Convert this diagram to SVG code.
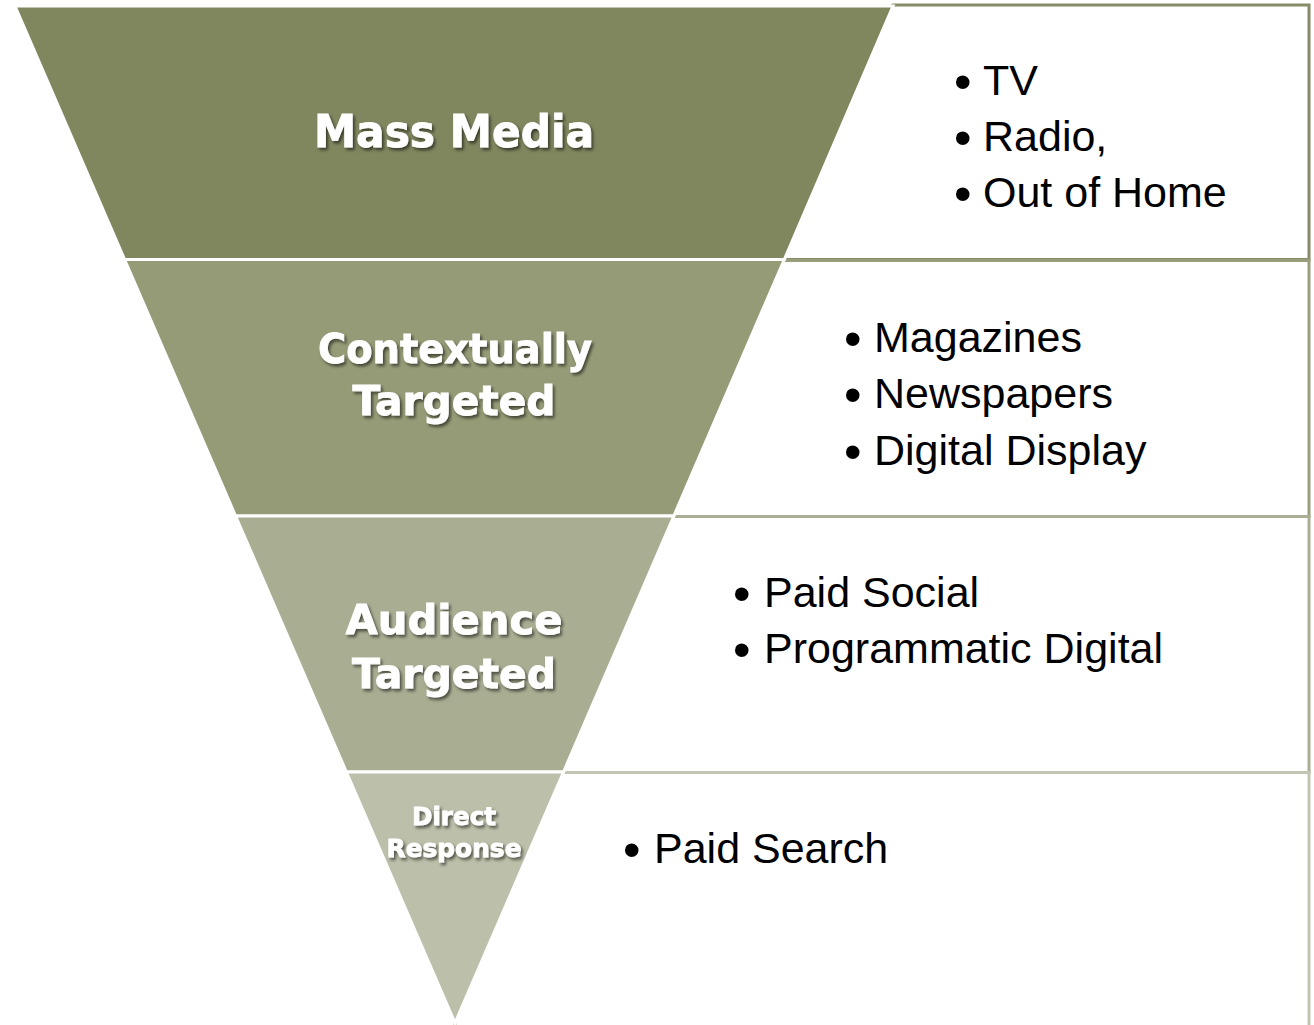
<svg xmlns="http://www.w3.org/2000/svg" width="1314" height="1025" viewBox="0 0 1314 1025">
<defs>
<filter id="sh" x="-10%" y="-30%" width="120%" height="160%">
<feDropShadow dx="2" dy="2.5" stdDeviation="1.5" flood-color="#000" flood-opacity="0.55"/>
</filter>
</defs>
<style>
.box{fill:#fff;stroke-width:3}
.band{stroke:#fff;stroke-width:3;stroke-linejoin:miter}
.lbl{font-family:"DejaVu Sans","Liberation Sans",sans-serif;font-weight:bold;fill:#fff;stroke:#fff;stroke-width:0.8;text-anchor:middle;filter:url(#sh)}
.item{font-family:"Liberation Sans",Arial,sans-serif;font-size:43px;fill:#000}
.bul{font-size:50px}
</style>
<rect width="1314" height="1025" fill="#fff"/>
<g id="boxes">
<g id="box1"><path class="box" d="M893,5 H1309 V259.5 H455 Z" stroke="#878c66"/></g>
<g id="box2"><rect class="box" x="455" y="260.5" width="854" height="256" stroke="#9a9e7c"/></g>
<g id="box3"><rect class="box" x="455" y="516.5" width="854" height="256" stroke="#aaae94"/></g>
<g id="box4"><rect class="box" x="455" y="772.5" width="854" height="260" stroke="#c2c5b1"/></g>
</g>
<g id="pyramid">
<g id="band1"><polygon class="band" fill="#80875f" points="15,6 893,6 784.3,259.5 124.6,259.5"/></g>
<g id="band2"><polygon class="band" fill="#969b77" points="124.6,259.5 784.3,259.5 673.8,516 235.6,516"/></g>
<g id="band3"><polygon class="band" fill="#a9ae93" points="235.6,516 673.8,516 563.5,772 346.4,772"/></g>
<g id="band4"><polygon class="band" fill="#bcbfa9" points="346.4,772 563.5,772 455,1023"/></g>
</g>
<g id="labels">
<text class="lbl" x="454" y="147" font-size="44" textLength="280" lengthAdjust="spacingAndGlyphs">Mass Media</text>
<text class="lbl" x="455" y="363" font-size="41" textLength="274" lengthAdjust="spacingAndGlyphs">Contextually</text>
<text class="lbl" x="454" y="415" font-size="41" textLength="203" lengthAdjust="spacingAndGlyphs">Targeted</text>
<text class="lbl" x="454" y="634" font-size="41" textLength="217" lengthAdjust="spacingAndGlyphs">Audience</text>
<text class="lbl" x="454" y="688" font-size="41" textLength="204" lengthAdjust="spacingAndGlyphs">Targeted</text>
<text class="lbl" x="454" y="825" font-size="25" textLength="84" lengthAdjust="spacingAndGlyphs">Direct</text>
<text class="lbl" x="454" y="857" font-size="25" textLength="135" lengthAdjust="spacingAndGlyphs">Response</text>
</g>
<g id="items">
<text class="item" x="954" y="95"><tspan class="bul" dy="4">•</tspan><tspan x="983" dy="-4">TV</tspan></text>
<text class="item" x="954" y="151"><tspan class="bul" dy="4">•</tspan><tspan x="983" dy="-4">Radio,</tspan></text>
<text class="item" x="954" y="207"><tspan class="bul" dy="4">•</tspan><tspan x="983" dy="-4">Out of Home</tspan></text>
<text class="item" x="844" y="352"><tspan class="bul" dy="4">•</tspan><tspan x="874" dy="-4">Magazines</tspan></text>
<text class="item" x="844" y="408"><tspan class="bul" dy="4">•</tspan><tspan x="874" dy="-4">Newspapers</tspan></text>
<text class="item" x="844" y="465"><tspan class="bul" dy="4">•</tspan><tspan x="874" dy="-4">Digital Display</tspan></text>
<text class="item" x="733" y="607"><tspan class="bul" dy="4">•</tspan><tspan x="764" dy="-4">Paid Social</tspan></text>
<text class="item" x="733" y="663"><tspan class="bul" dy="4">•</tspan><tspan x="764" dy="-4">Programmatic Digital</tspan></text>
<text class="item" x="623" y="863"><tspan class="bul" dy="4">•</tspan><tspan x="654" dy="-4">Paid Search</tspan></text>
</g>
</svg>
